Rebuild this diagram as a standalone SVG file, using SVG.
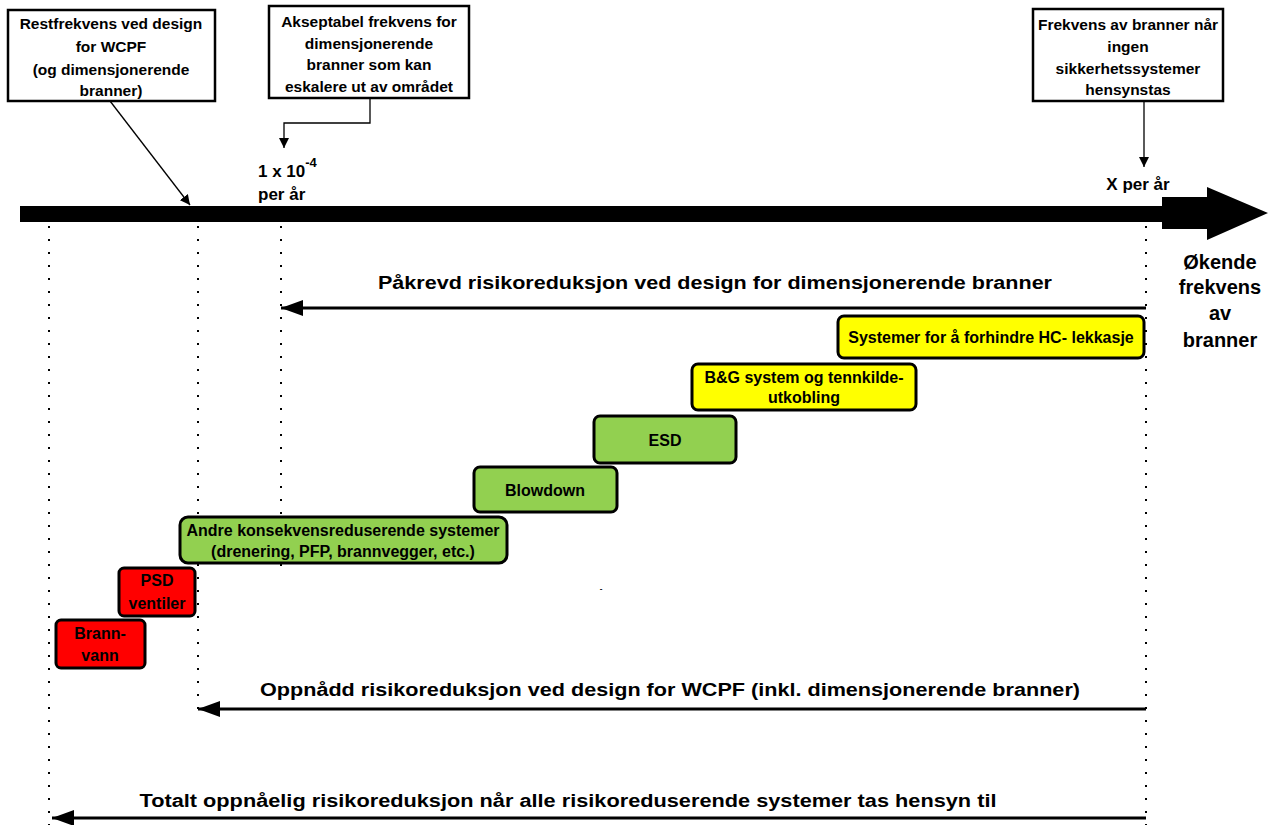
<svg xmlns="http://www.w3.org/2000/svg" width="1274" height="825" viewBox="0 0 1274 825">
<defs>
<style>
.box{fill:#fff;stroke:#000;stroke-width:2.5}
.t{font-family:"Liberation Sans",Arial,sans-serif;font-weight:bold;fill:#000;text-anchor:middle}
.tb{font-size:15.5px}
.sb{font-size:16px}
.big{font-size:18px}
.dot{stroke:#000;stroke-width:2;stroke-dasharray:2 11;fill:none}
.ln{stroke:#000;stroke-width:1.3;fill:none}
.ar{stroke:#000;stroke-width:3;fill:none}
.r{stroke:#000;stroke-width:3}
.y{fill:#FFFF00}
.g{fill:#92D050}
.red{fill:#FF0000}
</style>
<marker id="mh" viewBox="0 0 10 10" refX="10" refY="5" markerWidth="10" markerHeight="10" markerUnits="userSpaceOnUse" orient="auto"><path d="M0,0 L10,5 L0,10 z" fill="#000"/></marker>
<marker id="mb" viewBox="0 0 22 16" refX="22" refY="8" markerWidth="22" markerHeight="16" markerUnits="userSpaceOnUse" orient="auto"><path d="M0,0 L22,8 L0,16 z" fill="#000"/></marker>
</defs>

<g id="guides">
<line class="dot" x1="49" y1="226" x2="49" y2="825"/>
<line class="dot" x1="198" y1="226" x2="198" y2="712"/>
<line class="dot" x1="281" y1="226" x2="281" y2="570"/>
<line class="dot" x1="1146" y1="226" x2="1146" y2="825"/>
</g>

<g id="axis">
<polygon points="20,206 1162,206 1162,197 1207,197 1207,187 1268,213 1207,240 1207,229 1162,229 1162,222 20,222" fill="#000"/>
</g>

<g id="connectors">
<line class="ln" x1="110" y1="101" x2="190" y2="205" marker-end="url(#mh)"/>
<polyline class="ln" points="370,98 370,123 284,123 284,148" marker-end="url(#mh)"/>
<line class="ln" x1="1144" y1="101" x2="1144" y2="167" marker-end="url(#mh)"/>
<line class="ar" x1="1146" y1="308" x2="281" y2="308" marker-end="url(#mb)"/>
<line class="ar" x1="1146" y1="709" x2="198" y2="709" marker-end="url(#mb)"/>
<line class="ar" x1="1146" y1="818" x2="52" y2="818" marker-end="url(#mb)"/>
</g>

<g id="node-restfrekvens">
<rect class="box" x="8" y="10" width="207" height="91"/>
<text class="t tb" x="111" y="29">Restfrekvens ved design</text>
<text class="t tb" x="111" y="52">for WCPF</text>
<text class="t tb" x="111" y="75">(og dimensjonerende</text>
<text class="t tb" x="111" y="96">branner)</text>
</g>

<g id="node-akseptabel">
<rect class="box" x="269" y="6" width="200" height="92"/>
<text class="t tb" x="369" y="27">Akseptabel frekvens for</text>
<text class="t tb" x="369" y="49">dimensjonerende</text>
<text class="t tb" x="369" y="70">branner som kan</text>
<text class="t tb" x="369" y="92">eskalere ut av området</text>
</g>

<g id="node-frekvens">
<rect class="box" x="1033" y="9" width="190" height="92"/>
<text class="t tb" x="1128" y="30">Frekvens av branner når</text>
<text class="t tb" x="1128" y="52">ingen</text>
<text class="t tb" x="1128" y="74">sikkerhetssystemer</text>
<text class="t tb" x="1128" y="95">hensynstas</text>
</g>

<g id="label-1e4">
<text class="t" style="font-size:17px;text-anchor:start" x="258" y="177">1 x 10<tspan dy="-10" style="font-size:13px">-4</tspan></text>
<text class="t" style="font-size:17px;text-anchor:start" x="258" y="200">per år</text>
</g>

<g id="label-x">
<text class="t" style="font-size:17px" x="1138" y="190">X per år</text>
</g>

<g id="label-okende">
<text class="t" style="font-size:20px" x="1220" y="269">Økende</text>
<text class="t" style="font-size:20px" x="1220" y="294">frekvens</text>
<text class="t" style="font-size:20px" x="1220" y="320">av</text>
<text class="t" style="font-size:20px" x="1220" y="347">branner</text>
</g>

<g id="label-pakrevd">
<text class="t big" x="715" y="289" textLength="674" lengthAdjust="spacingAndGlyphs">Påkrevd risikoreduksjon ved design for dimensjonerende branner</text>
</g>
<g id="label-oppnadd">
<text class="t big" x="670" y="696" textLength="820" lengthAdjust="spacingAndGlyphs">Oppnådd risikoreduksjon ved design for WCPF (inkl. dimensjonerende branner)</text>
</g>
<g id="label-totalt">
<text class="t big" x="568" y="807" textLength="857" lengthAdjust="spacingAndGlyphs">Totalt oppnåelig risikoreduksjon når alle risikoreduserende systemer tas hensyn til</text>
</g>

<g id="node-hc">
<rect class="r y" x="838" y="316" width="306" height="42" rx="6"/>
<text class="t sb" x="991" y="343">Systemer for å forhindre HC- lekkasje</text>
</g>
<g id="node-bg">
<rect class="r y" x="692" y="364" width="224" height="46" rx="6"/>
<text class="t sb" x="804" y="383">B&amp;G system og tennkilde-</text>
<text class="t sb" x="804" y="403">utkobling</text>
</g>
<g id="node-esd">
<rect class="r g" x="594" y="416" width="142" height="47" rx="6"/>
<text class="t sb" x="665" y="446">ESD</text>
</g>
<g id="node-blowdown">
<rect class="r g" x="474" y="467" width="143" height="45" rx="6"/>
<text class="t sb" x="545" y="496">Blowdown</text>
</g>
<g id="node-andre">
<rect class="r g" x="180" y="517" width="327" height="46" rx="8"/>
<text class="t sb" x="343" y="536">Andre konsekvensreduserende systemer</text>
<text class="t sb" x="343" y="557">(drenering, PFP, brannvegger, etc.)</text>
</g>
<g id="node-psd">
<rect class="r red" x="119" y="568" width="76" height="48" rx="5"/>
<text class="t sb" x="157" y="586">PSD</text>
<text class="t sb" x="157" y="609">ventiler</text>
</g>
<g id="node-brannvann">
<rect class="r red" x="56" y="620" width="89" height="48" rx="5"/>
<text class="t sb" x="100" y="639">Brann-</text>
<text class="t sb" x="100" y="661">vann</text>
</g>

<g id="stray">
<text class="t" style="font-size:8px" x="601" y="591">-</text>
</g>
</svg>
